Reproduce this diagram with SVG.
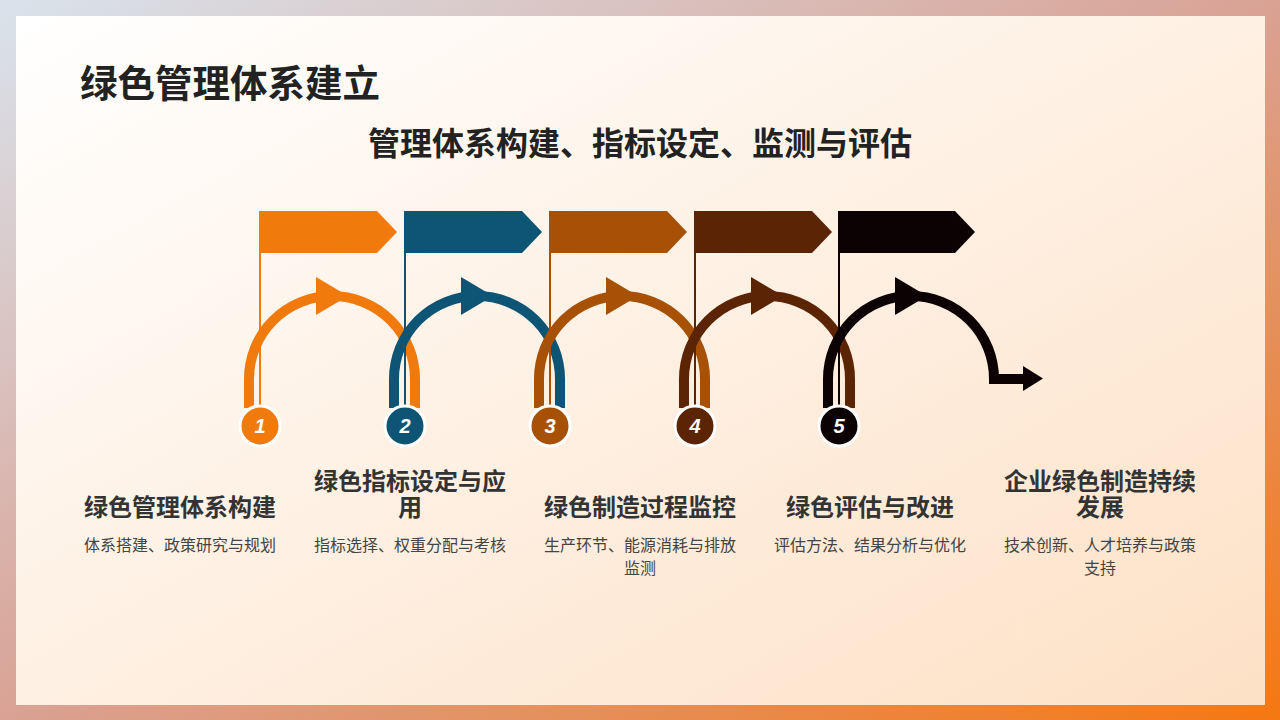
<svg xmlns="http://www.w3.org/2000/svg" width="1280" height="720" viewBox="0 0 1280 720">
<defs>
<linearGradient id="frame" x1="0" y1="0" x2="1" y2="1">
<stop offset="0" stop-color="#d9e3ec"/>
<stop offset="0.5" stop-color="#d9a294"/>
<stop offset="1" stop-color="#f57812"/>
</linearGradient>
<linearGradient id="panel" x1="0" y1="0" x2="1" y2="1">
<stop offset="0" stop-color="#ffffff"/>
<stop offset="1" stop-color="#fde1c6"/>
</linearGradient>
<style>
.title{font-family:"Noto Sans CJK SC","Noto Sans",sans-serif;font-weight:700;fill:#222222}
.head{font-family:"Noto Sans CJK SC","Noto Sans",sans-serif;font-weight:700;font-size:24px;fill:#333333;text-anchor:middle}
.desc{font-family:"Noto Sans CJK SC","Noto Sans",sans-serif;font-size:16px;fill:#444444;text-anchor:middle}
.num{font-family:"Liberation Sans",Arial,sans-serif;font-weight:700;font-style:italic;font-size:20px;fill:#ffffff;text-anchor:middle}
.arc{fill:none;stroke-width:10}
.pole{stroke-width:2}
.dot{stroke:#ffffff;stroke-width:3}
</style>
</defs>
<rect x="0" y="0" width="1280" height="720" fill="url(#frame)"/>
<rect x="16" y="16" width="1249" height="689" fill="url(#panel)"/>
<text class="title" x="80" y="97" font-size="37.5">绿色管理体系建立</text>
<text class="title" x="640" y="155" font-size="32" text-anchor="middle">管理体系构建、指标设定、监测与评估</text>
<g id="connectors">
<g id="flow1" fill="#f07a0c" stroke="#f07a0c">
<path class="arc" d="M249 408 L249 379 A83 83 0 0 1 415 379 L415 408"/>
<polygon points="316,277 316,315 348,296" stroke="none"/>
</g>
<g id="flow2" fill="#0e5474" stroke="#0e5474">
<path class="arc" d="M394 408 L394 379 A83 83 0 0 1 560 379 L560 408"/>
<polygon points="461,277 461,315 493,296" stroke="none"/>
</g>
<g id="flow3" fill="#a65106" stroke="#a65106">
<path class="arc" d="M539 408 L539 379 A83 83 0 0 1 705 379 L705 408"/>
<polygon points="606,277 606,315 638,296" stroke="none"/>
</g>
<g id="flow4" fill="#5a2405" stroke="#5a2405">
<path class="arc" d="M684 408 L684 379 A83 83 0 0 1 850 379 L850 408"/>
<polygon points="751,277 751,315 783,296" stroke="none"/>
</g>
<g id="flow5" fill="#0d0203" stroke="#0d0203">
<path class="arc" d="M828 408 L828 379 A83 83 0 0 1 994 379 L1026 379" stroke-linejoin="miter" stroke-width="9"/>
<polygon points="895,277 895,315 927,296" stroke="none"/>
<polygon points="1023,366 1023,391 1043,378.5" stroke="none"/>
</g>
</g>
<g id="step1">
<line class="pole" x1="260" y1="212" x2="260" y2="410" stroke="#f07a0c"/>
<polygon points="259,211 377,211 397,232 377,253 259,253" fill="#f07a0c"/>
<circle class="dot" cx="260" cy="426" r="20" fill="#f07a0c"/>
<text class="num" x="260" y="433">1</text>
<text class="head" x="180" y="516">绿色管理体系构建</text>
<text class="desc" x="180" y="551">体系搭建、政策研究与规划</text>
</g>
<g id="step2">
<line class="pole" x1="405" y1="212" x2="405" y2="410" stroke="#0e5474"/>
<polygon points="404,211 522,211 542,232 522,253 404,253" fill="#0e5474"/>
<circle class="dot" cx="405" cy="426" r="20" fill="#0e5474"/>
<text class="num" x="405" y="433">2</text>
<text class="head"><tspan x="410" y="490">绿色指标设定与应</tspan><tspan x="410" y="516">用</tspan></text>
<text class="desc" x="410" y="551">指标选择、权重分配与考核</text>
</g>
<g id="step3">
<line class="pole" x1="550" y1="212" x2="550" y2="410" stroke="#a65106"/>
<polygon points="549,211 667,211 687,232 667,253 549,253" fill="#a65106"/>
<circle class="dot" cx="550" cy="426" r="20" fill="#a65106"/>
<text class="num" x="550" y="433">3</text>
<text class="head" x="640" y="516">绿色制造过程监控</text>
<text class="desc"><tspan x="640" y="551">生产环节、能源消耗与排放</tspan><tspan x="640" y="574">监测</tspan></text>
</g>
<g id="step4">
<line class="pole" x1="695" y1="212" x2="695" y2="410" stroke="#5a2405"/>
<polygon points="694,211 812,211 832,232 812,253 694,253" fill="#5a2405"/>
<circle class="dot" cx="695" cy="426" r="20" fill="#5a2405"/>
<text class="num" x="695" y="433">4</text>
<text class="head" x="870" y="516">绿色评估与改进</text>
<text class="desc" x="870" y="551">评估方法、结果分析与优化</text>
</g>
<g id="step5">
<line class="pole" x1="839" y1="212" x2="839" y2="410" stroke="#0d0203"/>
<polygon points="838,211 955,211 975,232 955,253 838,253" fill="#0d0203"/>
<circle class="dot" cx="839" cy="426" r="20" fill="#0d0203"/>
<text class="num" x="839" y="433">5</text>
<text class="head"><tspan x="1100" y="490">企业绿色制造持续</tspan><tspan x="1100" y="516">发展</tspan></text>
<text class="desc"><tspan x="1100" y="551">技术创新、人才培养与政策</tspan><tspan x="1100" y="574">支持</tspan></text>
</g>
</svg>
